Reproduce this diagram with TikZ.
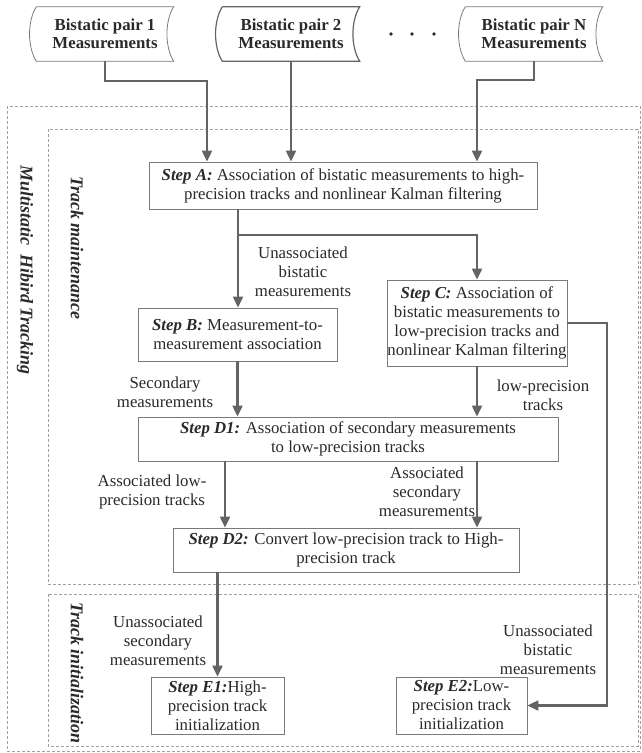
\documentclass[tikz,border=0pt]{standalone}
\usepackage{fontspec}
\setmainfont{Liberation Serif}
\usetikzlibrary{arrows.meta}
\definecolor{txt}{HTML}{2A2A2A}
\definecolor{lnk}{HTML}{646464}
\definecolor{brd}{HTML}{7A7A7A}
\definecolor{dsh}{HTML}{A0A0A0}
\tikzset{
  conn/.style={draw=lnk, line width=2.2pt, -{Triangle[length=11pt,width=10pt]}},
  stepbox/.style={draw=brd, line width=0.9pt, rectangle, align=center, inner sep=0pt,
    font=\fontsize{16.8}{19}\selectfont, text=txt},
  lbl/.style={align=center, inner sep=0pt, font=\fontsize{16.8}{19}\selectfont, text=txt},
  grp/.style={draw=dsh, line width=0.8pt, dash pattern=on 3pt off 2pt},
  grplbl/.style={inner sep=0pt, rotate=-90, font=\fontsize{18}{20}\selectfont\bfseries\itshape, text=txt},
  pairtxt/.style={align=center, inner sep=0pt, minimum width=137pt, minimum height=54pt,
    font=\fontsize{16.8}{18}\selectfont\bfseries, text=txt},
}
\newcommand{\stp}[1]{\textbf{\textit{#1}}}
\newcommand{\storeddata}[2]{%
  \draw[#2] (#1.north west) -- (#1.north east)
    .. controls ([xshift=-9pt,yshift=-14pt]#1.north east) and ([xshift=-9pt,yshift=14pt]#1.south east) .. (#1.south east)
    -- (#1.south west)
    .. controls ([xshift=-9pt,yshift=14pt]#1.south west) and ([xshift=-9pt,yshift=-14pt]#1.north west) .. (#1.north west);}
\begin{document}
\begin{tikzpicture}[x=1pt,y=-1pt]
\useasboundingbox (0,0) rectangle (641,753);
% group frames
\draw[grp] (7,106) rectangle (640,751);
\draw[grp] (48,129) rectangle (638,584);
\draw[grp] (48,594) rectangle (638,746);
\node[grplbl] (gmh) at (25,270) {Multistatic\hspace{9pt}Hibird Tracking};
\node[grplbl] (gtm) at (77,248) {Track maintenance};
\node[grplbl] (gti) at (77,673) {Track initialization};
% sources
\node[pairtxt] (P1) at (105,34) {Bistatic pair 1\\Measurements};
\node[pairtxt] (P2) at (291,34) {Bistatic pair 2\\Measurements};
\node[pairtxt] (PN) at (534,34) {Bistatic pair N\\Measurements};
\storeddata{P1}{draw=brd, line width=0.8pt}
\storeddata{P2}{draw=lnk, line width=1.2pt}
\storeddata{PN}{draw=brd, line width=0.8pt}
\fill[txt] (391,34) circle (1.8pt) (412,34) circle (1.8pt) (434,34) circle (1.8pt);
% steps
\node[stepbox, minimum width=388pt, minimum height=47pt] (A) at (343,185.5)
  {\stp{Step A:} Association of bistatic measurements to high-\\precision tracks and nonlinear Kalman filtering};
\node[stepbox, minimum width=199pt, minimum height=53pt] (B) at (237.5,334.5)
  {\stp{Step B:} Measurement-to-\\measurement association};
\node[stepbox, minimum width=180pt, minimum height=86pt] (C) at (477,323)
  {\stp{Step C:} Association of\\bistatic measurements to\\low-precision tracks and\\nonlinear Kalman filtering};
\node[stepbox, minimum width=420pt, minimum height=44pt] (D1) at (348,439)
  {\stp{Step D1:} Association of secondary measurements\\to low-precision tracks};
\node[stepbox, minimum width=346pt, minimum height=44pt] (D2) at (346,550)
  {\stp{Step D2:} Convert low-precision track to High-\\precision track};
\node[stepbox, minimum width=133pt, minimum height=57pt] (E1) at (217.5,705.5)
  {\stp{Step E1:}High-\\precision track\\initialization};
\node[stepbox, minimum width=131pt, minimum height=57pt] (E2) at (461.5,705.5)
  {\stp{Step E2:}Low-\\precision track\\initialization};
% labels
\node[lbl] (l1) at (303,272) {Unassociated\\bistatic\\measurements};
\node[lbl] (l2) at (165,392) {Secondary\\measurements};
\node[lbl] (l3) at (543,395) {low-precision\\tracks};
\node[lbl] (l4) at (152,492) {Associated low-\\precision tracks};
\node[lbl] (l5) at (427,492) {Associated\\secondary\\measurements};
\node[lbl] (l6) at (158,641) {Unassociated\\secondary\\measurements};
\node[lbl] (l7) at (548,650) {Unassociated\\bistatic\\measurements};
% connectors
\coordinate (m1) at (207,81);
\coordinate (m3) at (477,80);
\coordinate (sp) at (238,235);
\coordinate (d1) at (225,0);
\coordinate (rr) at (607,0);
\draw[conn] (P1.south) |- (m1) -- (m1 |- A.north);
\draw[conn] (P2.south) -- (P2.south |- A.north);
\draw[conn] (PN.south) |- (m3) -- (m3 |- A.north);
\draw[conn] (sp |- A.south) -- (sp |- B.north);
\draw[conn] (sp) -| (C.north);
\draw[conn] (B.south) -- (B.south |- D1.north);
\draw[conn] (C.south) -- (C.south |- D1.north);
\draw[conn] (d1 |- D1.south) -- (d1 |- D2.north);
\draw[conn] (C.south |- D1.south) -- (C.south |- D2.north);
\draw[conn] (E1.north |- D2.south) -- (E1.north);
\draw[conn] (C.east) -| (rr |- E2.east) -- (E2.east);
\end{tikzpicture}
\end{document}
